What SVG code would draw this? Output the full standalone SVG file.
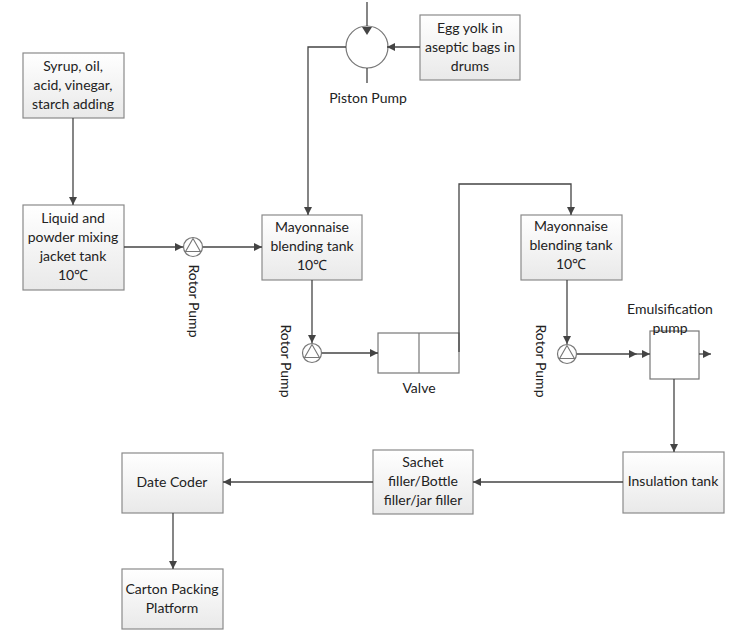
<svg xmlns="http://www.w3.org/2000/svg" width="750" height="637" viewBox="0 0 750 637">
<style>
.box{fill:url(#g);stroke:#8a8a8a;stroke-width:1.2}
.t{font-family:Lato,"Open Sans",sans-serif;font-size:14px;fill:#222;text-anchor:middle}
.ln{fill:none;stroke:#444;stroke-width:1.3}
.ar{fill:none;stroke:#444;stroke-width:1.3;marker-end:url(#a)}
.sym{fill:#fff;stroke:#777;stroke-width:1.2}
</style>
<defs>
<linearGradient id="g" x1="0" y1="0" x2="0" y2="1"><stop offset="0" stop-color="#ffffff"/><stop offset="1" stop-color="#e9e9e9"/></linearGradient>
<marker id="a" viewBox="0 0 10 10" refX="10" refY="5" markerWidth="8" markerHeight="8" markerUnits="userSpaceOnUse" orient="auto"><path d="M0,0L10,5L0,10z" fill="#444"/></marker>
</defs>
<rect width="750" height="637" fill="#fff"/>
<g id="syrup"><rect class="box" x="23" y="53" width="101" height="65"/>
<text class="t" x="73" y="71">Syrup, oil,</text><text class="t" x="73" y="90">acid, vinegar,</text><text class="t" x="73" y="109">starch adding</text></g>
<g id="liquid"><rect class="box" x="23" y="205" width="101" height="85"/>
<text class="t" x="73" y="223">Liquid and</text><text class="t" x="73" y="242">powder mixing</text><text class="t" x="73" y="261">jacket tank</text><text class="t" x="73" y="280">10℃</text></g>
<g id="rotor1"><circle class="sym" cx="193" cy="247" r="9.5"/><path d="M193,238.5L185.6,251.5L200.4,251.5z" fill="none" stroke="#777" stroke-width="1.1"/>
<text class="t" transform="translate(189,301) rotate(90)">Rotor Pump</text></g>
<g id="piston"><circle class="sym" cx="367" cy="47" r="21"/>
<text class="t" x="368" y="103">Piston Pump</text></g>
<g id="egg"><rect class="box" x="420" y="15" width="100" height="65"/>
<text class="t" x="470" y="33">Egg yolk in</text><text class="t" x="470" y="52">aseptic bags in</text><text class="t" x="470" y="71">drums</text></g>
<g id="tank1"><rect class="box" x="262" y="215" width="100" height="65"/>
<text class="t" x="312" y="232">Mayonnaise</text><text class="t" x="312" y="251">blending tank</text><text class="t" x="312" y="270">10℃</text></g>
<g id="rotor2"><circle class="sym" cx="312" cy="353" r="9.5"/><path d="M312,344.5L304.6,357.5L319.4,357.5z" fill="none" stroke="#777" stroke-width="1.1"/>
<text class="t" transform="translate(281,361) rotate(90)">Rotor Pump</text></g>
<g id="valve"><rect x="378" y="333" width="81" height="40" fill="#fff" stroke="#777" stroke-width="1.2"/><line x1="419" y1="333" x2="419" y2="373" stroke="#777" stroke-width="1.2"/>
<text class="t" x="419" y="393">Valve</text></g>
<g id="tank2"><rect class="box" x="521" y="215" width="101" height="65"/>
<text class="t" x="571" y="231">Mayonnaise</text><text class="t" x="571" y="250">blending tank</text><text class="t" x="571" y="269">10℃</text></g>
<g id="rotor3"><circle class="sym" cx="567" cy="354" r="9.5"/><path d="M567,345.5L559.6,358.5L574.4,358.5z" fill="none" stroke="#777" stroke-width="1.1"/>
<text class="t" transform="translate(536,361) rotate(90)">Rotor Pump</text></g>
<g id="emul"><rect x="650" y="331" width="49" height="48" fill="#fff" stroke="#777" stroke-width="1.2"/>
<text class="t" x="670" y="314">Emulsification</text><text class="t" x="670" y="333">pump</text></g>
<g id="insulation"><rect class="box" x="623" y="452" width="101" height="61"/>
<text class="t" x="673" y="486">Insulation tank</text></g>
<g id="sachet"><rect class="box" x="373" y="450" width="100" height="64"/>
<text class="t" x="423" y="467">Sachet</text><text class="t" x="423" y="486">filler/Bottle</text><text class="t" x="423" y="505">filler/jar filler</text></g>
<g id="datecoder"><rect class="box" x="122" y="453" width="101" height="60"/>
<text class="t" x="172" y="487">Date Coder</text></g>
<g id="carton"><rect class="box" x="122" y="569" width="101" height="60"/>
<text class="t" x="172" y="594">Carton Packing</text><text class="t" x="172" y="613">Platform</text></g>
<g id="connectors">
<line class="ar" x1="73" y1="118" x2="73" y2="205"/>
<line class="ar" x1="124" y1="247" x2="183" y2="247"/>
<line class="ar" x1="203" y1="247" x2="262" y2="247"/>
<polyline class="ar" points="346,47 308,47 308,215"/>
<line class="ar" x1="420" y1="47" x2="387" y2="47"/>
<line class="ln" x1="367" y1="2" x2="367" y2="26"/>
<path d="M362,27L372,27L367,35z" fill="#444"/>
<line class="ln" x1="367" y1="68" x2="367" y2="83"/>
<line class="ar" x1="312" y1="280" x2="312" y2="343"/>
<line class="ar" x1="322" y1="353" x2="378" y2="353"/>
<polyline class="ar" points="459,352 459,184 571,184 571,215"/>
<line class="ar" x1="567" y1="280" x2="567" y2="344"/>
<line class="ar" x1="577" y1="354" x2="637" y2="354"/>
<line class="ar" x1="637" y1="354" x2="650" y2="354"/>
<line class="ar" x1="699" y1="354" x2="711" y2="354"/>
<line class="ar" x1="674" y1="379" x2="674" y2="452"/>
<line class="ar" x1="623" y1="482" x2="473" y2="482"/>
<line class="ar" x1="373" y1="482" x2="223" y2="482"/>
<line class="ar" x1="173" y1="513" x2="173" y2="569"/>
</g>
</svg>
